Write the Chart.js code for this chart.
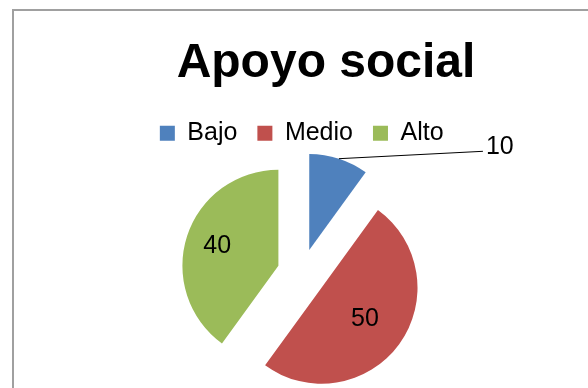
<!DOCTYPE html>
<html>
<head>
<meta charset="utf-8">
<script src="https://cdn.jsdelivr.net/npm/chart.js@4.4.0/dist/chart.umd.min.js"></script>
<style>
  html, body { margin: 0; padding: 0; overflow: hidden; background: #fff; }
  #frame { position: absolute; left: 12px; top: 9px; width: 800px; height: 600px; border: 2px solid #a0a0a0; }
  #chart-1 { position: absolute; left: 0; top: 0; }
</style>
</head>
<body>
<div id="frame"></div>
<canvas id="chart-1" width="588" height="400"></canvas>
<script>
const chartTitle = 'Apoyo social';
const categories = ['Bajo', 'Medio', 'Alto'];
const values = [10, 50, 40];
const sliceColors = ['#4F81BD', '#C0504D', '#9BBB59'];

const FONT = "'Liberation Sans', Arial, sans-serif";

// pulls every slice out along its bisector, like an exploded office pie
const explodePlugin = {
  id: 'explode',
  beforeDatasetDraw(chart, args, opts) {
    const ctx = chart.ctx;
    args.meta.data.forEach(arc => {
      const mid = (arc.startAngle + arc.endAngle) / 2;
      ctx.save();
      ctx.translate(Math.cos(mid) * opts.distance, Math.sin(mid) * opts.distance);
      arc.draw(ctx);
      ctx.restore();
    });
    return false;
  }
};

// title sits a bit right of the pie, so it is drawn by hand
const titlePlugin = {
  id: 'bigTitle',
  afterDraw(chart, args, opts) {
    const ctx = chart.ctx;
    ctx.save();
    ctx.font = 'bold 48px ' + FONT;
    ctx.fillStyle = '#000';
    ctx.textAlign = 'center';
    ctx.textBaseline = 'alphabetic';
    ctx.fillText(opts.text, opts.x, opts.y);
    ctx.restore();
  }
};

// value labels, the small slice gets a leader line
const valueLabels = {
  id: 'valueLabels',
  afterDatasetsDraw(chart, args, opts) {
    const ctx = chart.ctx;
    const meta = chart.getDatasetMeta(0);
    const dist = chart.options.plugins.explode.distance;
    ctx.save();
    ctx.font = '25px ' + FONT;
    ctx.fillStyle = '#000';
    ctx.strokeStyle = '#000';
    ctx.lineWidth = 1;
    meta.data.forEach((arc, i) => {
      const mid = (arc.startAngle + arc.endAngle) / 2;
      const ux = Math.cos(mid), uy = Math.sin(mid);
      const cx = arc.x + ux * dist, cy = arc.y + uy * dist;
      const text = String(chart.data.datasets[0].data[i]);
      const place = opts.placement[i];
      if (place.leader) {
        const sx = cx + ux * arc.outerRadius, sy = cy + uy * arc.outerRadius;
        const ex = sx + place.leader[0], ey = sy + place.leader[1];
        ctx.beginPath();
        ctx.moveTo(sx, sy);
        ctx.lineTo(ex, ey);
        ctx.stroke();
        ctx.textAlign = 'left';
        ctx.textBaseline = 'middle';
        ctx.fillText(text, ex + 3, ey - 4);
      } else {
        ctx.textAlign = 'center';
        ctx.textBaseline = 'middle';
        ctx.fillText(text, cx + ux * arc.outerRadius * place.r, cy + uy * arc.outerRadius * place.r);
      }
    });
    ctx.restore();
  }
};

const chart = new Chart(document.getElementById('chart-1'), {
  type: 'pie',
  data: {
    labels: categories,
    datasets: [{
      data: values,
      backgroundColor: sliceColors,
      borderWidth: 0,
      radius: 96
    }]
  },
  options: {
    responsive: false,
    devicePixelRatio: 1,
    animation: false,
    events: [],
    layout: {
      padding: { top: 100.8, left: 20, right: 4.6, bottom: 9.2 }
    },
    plugins: {
      tooltip: { enabled: false },
      legend: {
        position: 'top',
        align: 'center',
        labels: {
          boxWidth: 15,
          boxHeight: 15,
          padding: 20,
          color: '#000',
          font: { family: FONT, size: 25 }
        }
      },
      explode: { distance: 24.5 },
      bigTitle: { text: chartTitle, x: 326, y: 77 },
      valueLabels: {
        placement: [
          { leader: [144, -7.4] },
          { r: 0.56 },
          { r: 0.67 }
        ]
      }
    }
  },
  plugins: [explodePlugin, titlePlugin, valueLabels]
});
</script>
</body>
</html>
